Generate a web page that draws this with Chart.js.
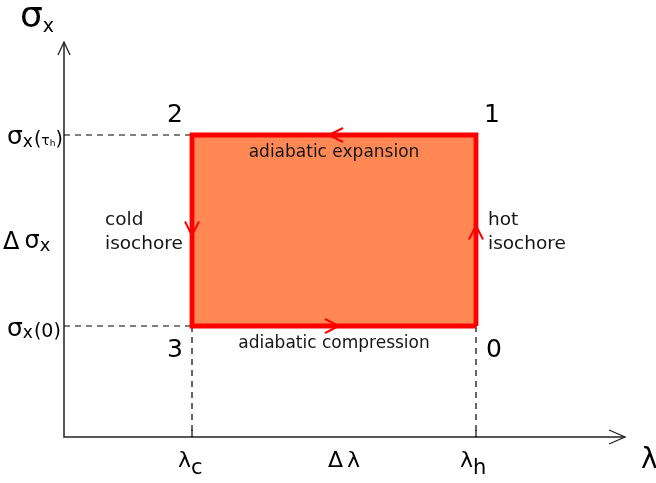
<!DOCTYPE html>
<html>
<head>
<meta charset="utf-8">
<script src="https://cdn.jsdelivr.net/npm/chart.js@4.4.1/dist/chart.umd.min.js"></script>
<style>
  body { margin: 0; background: #fff; }
  #wrap { width: 656px; height: 483px; }
</style>
</head>
<body>
<div id="wrap"><canvas id="myChart"></canvas></div>
<script>
// x values: lambda_c, lambda_h
const lambdaVals = [1.28, 4.12];
// y values: sigma_x(0), sigma_x(tau_h)
const sigmaVals = [1.11, 3.02];
// the cycle 0 -> 1 -> 2 -> 3 -> 0
const cycleLambda = [4.12, 4.12, 1.28, 1.28, 4.12];
const cycleSigma = [1.11, 3.02, 3.02, 1.11, 1.11];
const cornerNames = ["0", "1", "2", "3"];
const edgeNames = [["hot", "isochore"], ["adiabatic expansion"], ["cold", "isochore"], ["adiabatic compression"]];
const xRange = [0, 5.61];
const yRange = [0, 3.95];

const FONT = '"DejaVu Sans", Verdana, sans-serif';

// text made of pieces: [text, size, dy, extra gap]
function drawRich(ctx, x, y, parts, align) {
  let w = 0;
  parts.forEach((p) => {
    ctx.font = p[1] + "px " + FONT;
    w += ctx.measureText(p[0]).width + (p[3] || 0);
  });
  let cx = align === "center" ? x - w / 2 : x;
  parts.forEach((p) => {
    ctx.font = p[1] + "px " + FONT;
    ctx.fillText(p[0], cx, y + (p[2] || 0));
    cx += ctx.measureText(p[0]).width + (p[3] || 0);
  });
}

function chevron(ctx, tx, ty, dx, dy, len, half) {
  ctx.beginPath();
  ctx.moveTo(tx - dx * len - dy * half, ty - dy * len + dx * half);
  ctx.lineTo(tx, ty);
  ctx.lineTo(tx - dx * len + dy * half, ty - dy * len - dx * half);
  ctx.stroke();
}

const cycleDecor = {
  id: "cycleDecor",
  beforeDatasetsDraw(chart) {
    const { ctx, scales: { x, y } } = chart;
    const x0 = x.getPixelForValue(xRange[0]);
    const x1 = x.getPixelForValue(xRange[1]);
    const y0 = y.getPixelForValue(yRange[0]);
    const y1 = y.getPixelForValue(yRange[1]);
    ctx.save();
    ctx.strokeStyle = "#222";
    ctx.lineWidth = 1.5;
    ctx.beginPath();
    ctx.moveTo(x0, y1);
    ctx.lineTo(x0, y0);
    ctx.lineTo(x1, y0);
    ctx.stroke();
    ctx.lineWidth = 1.3;
    chevron(ctx, x0, y1, 0, -1, 13, 6);
    chevron(ctx, x1, y0, 1, 0, 16, 7);
    // small ticks
    lambdaVals.forEach((v) => {
      const px = x.getPixelForValue(v);
      ctx.beginPath();
      ctx.moveTo(px, y0);
      ctx.lineTo(px, y0 - 7);
      ctx.stroke();
    });
    ctx.restore();
  },
  afterDatasetsDraw(chart) {
    const { ctx, scales: { x, y } } = chart;
    ctx.save();
    const px = cycleLambda.map((v) => x.getPixelForValue(v));
    const py = cycleSigma.map((v) => y.getPixelForValue(v));
    const midX = (px[0] + px[2]) / 2;
    const midY = (py[0] + py[1]) / 2;

    // direction arrows on the edges
    ctx.strokeStyle = "#ff0000";
    ctx.lineWidth = 2;
    for (let i = 0; i < 4; i++) {
      const mx = (px[i] + px[i + 1]) / 2;
      const my = (py[i] + py[i + 1]) / 2;
      const len = Math.hypot(px[i + 1] - px[i], py[i + 1] - py[i]);
      const dx = (px[i + 1] - px[i]) / len;
      const dy = (py[i + 1] - py[i]) / len;
      chevron(ctx, mx + dx * 5, my + dy * 5, dx, dy, 14, 7);
    }

    // edge names
    ctx.fillStyle = "#151515";
    ctx.textBaseline = "alphabetic";
    ctx.textAlign = "left";
    ctx.font = "18.5px " + FONT;
    edgeNames[0].forEach((t, k) => ctx.fillText(t, px[0] + 12, midY - 6 + k * 24));
    edgeNames[2].forEach((t, k) => ctx.fillText(t, px[2] - 87, midY - 6 + k * 24));
    ctx.textAlign = "center";
    ctx.font = "17px " + FONT;
    ctx.fillText(edgeNames[1][0], midX, py[1] + 22);
    ctx.fillText(edgeNames[3][0], midX, py[0] + 22);

    // corner numbers
    ctx.fillStyle = "#000";
    ctx.font = "25px " + FONT;
    const cornerOff = [[18, 31], [16, -13], [-17, -13], [-17, 31]];
    cornerNames.forEach((t, i) => {
      ctx.fillText(t, px[i] + cornerOff[i][0], py[i] + cornerOff[i][1]);
    });

    // axis labels
    ctx.textAlign = "left";
    const left = x.getPixelForValue(xRange[0]);
    const base = y.getPixelForValue(yRange[0]);
    const top = y.getPixelForValue(yRange[1]);
    const right = x.getPixelForValue(xRange[1]);
    drawRich(ctx, left - 44, top - 15, [["σ", 36, 0], ["x", 19, 5]]);
    drawRich(ctx, right + 16, base + 31, [["λ", 28, 0]]);

    const sTop = y.getPixelForValue(sigmaVals[1]);
    const sBot = y.getPixelForValue(sigmaVals[0]);
    drawRich(ctx, left - 57, sTop + 9, [["σ", 25, 0], ["x", 17, 3, 1], ["(", 19, 1], ["τ", 14, 1], ["h", 9, 2], [")", 19, 1]]);
    drawRich(ctx, left - 57, sBot + 10, [["σ", 25, 0], ["x", 17, 2, 1], ["(0)", 19, 1]]);
    drawRich(ctx, left - 61, midY + 18, [["Δ", 24, 0, 5], ["σ", 24, -1], ["x", 18, 2]]);

    const lc = x.getPixelForValue(lambdaVals[0]);
    const lh = x.getPixelForValue(lambdaVals[1]);
    drawRich(ctx, lc - 14, base + 30, [["λ", 22, 0], ["c", 21, 7]]);
    drawRich(ctx, lh - 16, base + 30, [["λ", 22, 0], ["h", 21, 7]]);
    drawRich(ctx, (lc + lh) / 2 + 10, base + 30, [["Δ", 22, 0, 4], ["λ", 22, 0]], "center");
    ctx.restore();
  },
};

const dashedSets = [];
sigmaVals.forEach((s) => {
  dashedSets.push([{ x: xRange[0], y: s }, { x: lambdaVals[0], y: s }]);
});
lambdaVals.forEach((l) => {
  dashedSets.push([{ x: l, y: sigmaVals[0] }, { x: l, y: yRange[0] }]);
});

const datasets = [
  {
    data: cycleLambda.map((v, i) => ({ x: v, y: cycleSigma[i] })),
    showLine: true,
    fill: "shape",
    backgroundColor: "rgb(255, 136, 85)",
    borderColor: "#ff0000",
    borderWidth: 4.8,
    borderJoinStyle: "miter",
    pointRadius: 0,
    order: 0,
  },
].concat(
  dashedSets.map((d) => ({
    data: d,
    showLine: true,
    fill: false,
    borderColor: "#000",
    borderWidth: 1.2,
    borderDash: [6, 5],
    pointRadius: 0,
    order: 1,
  }))
);

new Chart(document.getElementById("myChart"), {
  type: "scatter",
  data: { datasets },
  options: {
    responsive: true,
    maintainAspectRatio: false,
    animation: false,
    layout: { padding: { left: 64, right: 31, top: 42, bottom: 46 } },
    scales: {
      x: { type: "linear", min: xRange[0], max: xRange[1], display: false },
      y: { type: "linear", min: yRange[0], max: yRange[1], display: false },
    },
    plugins: {
      legend: { display: false },
      tooltip: { enabled: false },
    },
  },
  plugins: [cycleDecor],
});
</script>
</body>
</html>
